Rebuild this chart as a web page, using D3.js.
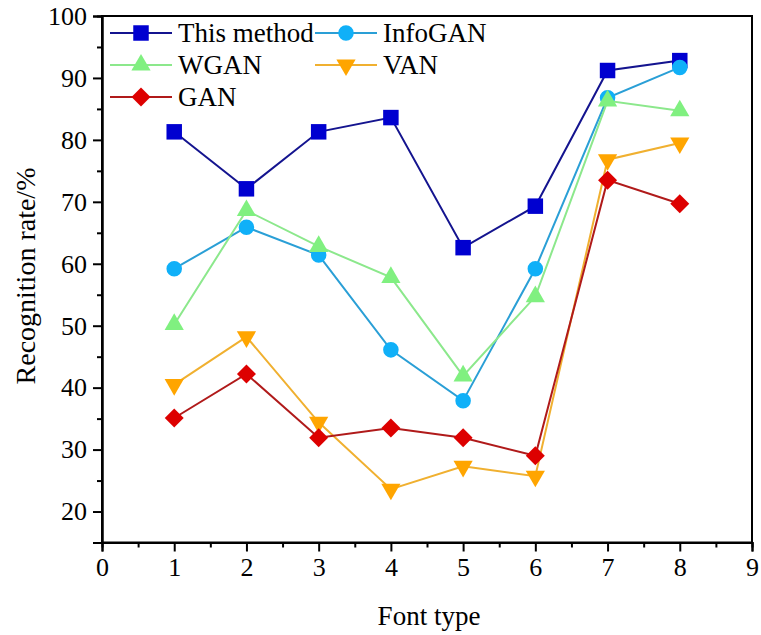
<html>
<head>
  <script src="https://d3js.org/d3.v7.min.js"></script>
  <style>
    body { margin: 0; background: #fff; }
    svg text { font-family: "Liberation Serif", "Times New Roman", serif; fill: #000; }
  </style>
</head>
<body>
  <svg id="chart" width="761" height="635"></svg>
  <script>
    // font types on the x axis
    const fontTypes = [1, 2, 3, 4, 5, 6, 7, 8];

    const thisMethod = [81.3, 72.1, 81.3, 83.6, 62.6, 69.3, 91.2, 92.8];
    const infoGAN = [59.2, 65.9, 61.4, 46.1, 37.9, 59.2, 86.8, 91.7];
    const wGAN = [50.2, 68.6, 62.8, 57.8, 41.9, 54.7, 86.3, 84.7];
    const vAN = [40.5, 48.2, 34.4, 23.6, 27.3, 25.7, 76.8, 79.5];
    const gAN = [35.1, 42.2, 31.9, 33.5, 31.9, 29.0, 73.5, 69.7];

    const seriesNames = ["This method", "InfoGAN", "WGAN", "VAN", "GAN"];
    const xTicks = [0, 1, 2, 3, 4, 5, 6, 7, 8, 9];
    const yTicks = [20, 30, 40, 50, 60, 70, 80, 90, 100];

    const series = [
      { name: seriesNames[0], values: thisMethod, line: "#14148f", fill: "#0000d0", symbol: d3.symbolSquare, size: 240, rot: 0 },
      { name: seriesNames[1], values: infoGAN, line: "#2a9fd6", fill: "#10b0f8", symbol: d3.symbolCircle, size: 190, rot: 0 },
      { name: seriesNames[2], values: wGAN, line: "#8ce88c", fill: "#80f080", symbol: d3.symbolTriangle, size: 160, rot: 0 },
      { name: seriesNames[3], values: vAN, line: "#f0b030", fill: "#ffa500", symbol: d3.symbolTriangle, size: 160, rot: 180 },
      { name: seriesNames[4], values: gAN, line: "#b01a1a", fill: "#dd0000", symbol: d3.symbolSquare, size: 180, rot: 45 }
    ];

    const svg = d3.select("svg#chart");
    const plotLeft = 102, plotRight = 752, plotTop = 16, plotBottom = 542.5;

    const x = d3.scaleLinear().domain([0, 9]).range([plotLeft, plotRight]);
    const y = d3.scaleLinear().domain([15, 100]).range([plotBottom, plotTop]);

    // frame
    svg.append("rect")
      .attr("x", plotLeft).attr("y", plotTop)
      .attr("width", plotRight - plotLeft).attr("height", plotBottom - plotTop)
      .attr("fill", "none").attr("stroke", "#000").attr("stroke-width", 2);

    // minor ticks
    const xMinor = d3.axisBottom(x).tickValues(d3.range(0.5, 9, 1)).tickSize(5).tickFormat("");
    const yMinor = d3.axisLeft(y).tickValues(d3.range(15, 100, 10)).tickSize(5).tickFormat("");

    const xAxis = d3.axisBottom(x).tickValues(xTicks).tickSize(9).tickPadding(6).tickFormat(d3.format("d"));
    const yAxis = d3.axisLeft(y).tickValues(yTicks).tickSize(9).tickPadding(6);

    [svg.append("g").attr("transform", `translate(0,${plotBottom})`).call(xMinor),
     svg.append("g").attr("transform", `translate(${plotLeft},0)`).call(yMinor),
     svg.append("g").attr("transform", `translate(0,${plotBottom})`).call(xAxis),
     svg.append("g").attr("transform", `translate(${plotLeft},0)`).call(yAxis)]
      .forEach(g => {
        g.select(".domain").attr("stroke", "#000").attr("stroke-width", 2);
        g.selectAll(".tick line").attr("stroke", "#000").attr("stroke-width", 2);
        g.selectAll(".tick text").style("font-size", "26px").attr("fill", "#000");
      });

    // axis titles
    svg.append("text")
      .attr("x", (plotLeft + plotRight) / 2 + 2).attr("y", 625)
      .attr("text-anchor", "middle")
      .style("font-size", "27px")
      .text("Font type");

    svg.append("text")
      .attr("transform", "rotate(-90)")
      .attr("x", -276).attr("y", 35)
      .attr("text-anchor", "middle")
      .style("font-size", "28px")
      .text("Recognition rate/%");

    const line = d3.line().x((d, i) => x(fontTypes[i])).y(d => y(d));

    series.forEach(s => {
      const g = svg.append("g");
      g.append("path")
        .attr("d", line(s.values))
        .attr("fill", "none")
        .attr("stroke", s.line)
        .attr("stroke-width", 2);
      g.selectAll("path.pt")
        .data(s.values)
        .join("path")
        .attr("class", "pt")
        .attr("d", d3.symbol().type(s.symbol).size(s.size))
        .attr("transform", (d, i) => `translate(${x(fontTypes[i])},${y(d)}) rotate(${s.rot})`)
        .attr("fill", s.fill);
    });

    // legend
    const legendPos = [
      { lx: 110, ty: 33 }, { lx: 315, ty: 33 },
      { lx: 110, ty: 65 }, { lx: 315, ty: 65 },
      { lx: 110, ty: 97 }
    ];
    series.forEach((s, i) => {
      const p = legendPos[i];
      const g = svg.append("g").attr("transform", `translate(${p.lx},${p.ty})`);
      g.append("line").attr("x1", 0).attr("x2", 62).attr("y1", 0).attr("y2", 0)
        .attr("stroke", s.line).attr("stroke-width", 2);
      g.append("path")
        .attr("d", d3.symbol().type(s.symbol).size(s.size))
        .attr("transform", `translate(31,0) rotate(${s.rot})`)
        .attr("fill", s.fill);
      g.append("text")
        .attr("x", 68).attr("y", 9)
        .style("font-size", "27px")
        .text(s.name);
    });
  </script>
</body>
</html>
